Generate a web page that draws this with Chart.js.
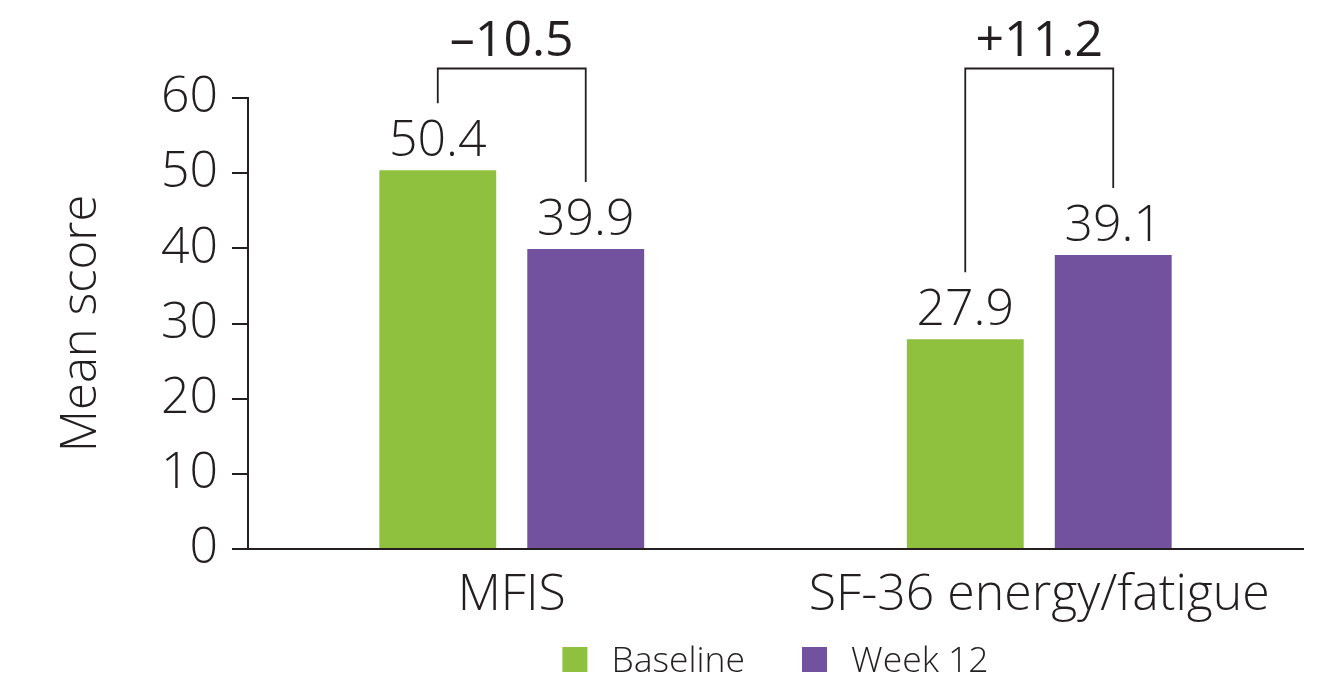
<!DOCTYPE html>
<html>
<head>
<meta charset="utf-8">
<title>Mean fatigue scores</title>
<script src="https://cdn.jsdelivr.net/npm/chart.js@4.4.1/dist/chart.umd.min.js"></script>
<style>
  html, body { margin: 0; padding: 0; background: #ffffff; }
  #wrap { width: 1334px; height: 681px; }
</style>
</head>
<body>
<div id="wrap"><canvas id="chart" width="1334" height="681"></canvas></div>
<script>
// Chart data
const categories = ['MFIS', 'SF-36 energy/fatigue'];
const seriesNames = ['Baseline', 'Week 12'];
const baselineScores = [50.4, 27.9];
const week12Scores = [39.9, 39.1];
const changeLabels = ['\u201310.5', '+11.2'];
const yTickValues = [0, 10, 20, 30, 40, 50, 60];

// Styling
const INK = '#231f20';
const GREEN = '#8fc13f';
const PURPLE = '#72529f';
const FONT = "'Open Sans', 'Noto Sans', sans-serif";

// Value labels above each bar
const valueLabels = {
  id: 'valueLabels',
  afterDatasetsDraw(chart) {
    const ctx = chart.ctx;
    ctx.save();
    ctx.font = `300 50px ${FONT}`;
    ctx.fillStyle = INK;
    ctx.textAlign = 'center';
    ctx.textBaseline = 'alphabetic';
    chart.data.datasets.forEach((ds, di) => {
      chart.getDatasetMeta(di).data.forEach((bar, i) => {
        ctx.fillText(ds.data[i].toFixed(1), bar.x, bar.y - 14);
      });
    });
    ctx.restore();
  }
};

// Brackets joining the two bars of each group, with the change on top
const changeBrackets = {
  id: 'changeBrackets',
  afterDatasetsDraw(chart) {
    const ctx = chart.ctx;
    const y = chart.scales.y;
    const topY = Math.round(y.getPixelForValue(64)) + 0.5;
    const a = chart.getDatasetMeta(0).data;
    const b = chart.getDatasetMeta(1).data;
    ctx.save();
    ctx.strokeStyle = INK;
    ctx.lineWidth = 1.8;
    categories.forEach((c, i) => {
      const x1 = a[i].x, x2 = b[i].x;
      ctx.beginPath();
      ctx.moveTo(x1, a[i].y - 67);
      ctx.lineTo(x1, topY);
      ctx.lineTo(x2, topY);
      ctx.lineTo(x2, b[i].y - 67);
      ctx.stroke();
      ctx.font = `400 50px ${FONT}`;
      ctx.fillStyle = INK;
      ctx.textAlign = 'center';
      ctx.textBaseline = 'alphabetic';
      ctx.fillText(changeLabels[i], (x1 + x2) / 2, topY - 13);
    });
    ctx.restore();
  }
};

// Legend centred under the plot area
const bottomLegend = {
  id: 'bottomLegend',
  afterDraw(chart) {
    const ctx = chart.ctx;
    const area = chart.chartArea;
    const box = 25, textGap = 24, itemGap = 57;
    ctx.save();
    ctx.font = `300 35.5px ${FONT}`;
    const widths = chart.data.datasets.map(ds => ctx.measureText(ds.label).width);
    let total = 0;
    widths.forEach((w, i) => { total += box + textGap + w + (i ? itemGap : 0); });
    let x = (area.left + area.right) / 2 - total / 2;
    const top = chart.height - 34;
    ctx.textBaseline = 'alphabetic';
    ctx.textAlign = 'left';
    chart.data.datasets.forEach((ds, i) => {
      ctx.fillStyle = ds.backgroundColor;
      ctx.fillRect(x, top, box, box);
      ctx.fillStyle = INK;
      ctx.fillText(ds.label, x + box + textGap, top + box);
      x += box + textGap + widths[i] + itemGap;
    });
    ctx.restore();
  }
};

new Chart(document.getElementById('chart'), {
  type: 'bar',
  data: {
    labels: categories,
    datasets: [
      { label: seriesNames[0], data: baselineScores, backgroundColor: GREEN },
      { label: seriesNames[1], data: week12Scores, backgroundColor: PURPLE }
    ]
  },
  options: {
    responsive: false,
    animation: false,
    devicePixelRatio: 1,
    layout: { padding: { top: 98, right: 31, bottom: 38, left: 0 } },
    datasets: { bar: { categoryPercentage: 0.561, barPercentage: 0.79 } },
    plugins: { legend: { display: false }, tooltip: { enabled: false } },
    scales: {
      x: {
        grid: { display: true, drawOnChartArea: false, drawTicks: false },
        border: { display: true, color: INK, width: 2 },
        ticks: { color: INK, font: { family: FONT, size: 50, weight: 300 }, padding: 17 }
      },
      y: {
        min: 0,
        max: 60,
        afterBuildTicks(scale) { scale.ticks = yTickValues.map(v => ({ value: v })); },
        afterFit(scale) { scale.width = 248; },
        grid: { drawOnChartArea: false, drawTicks: true, tickLength: 16, color: INK, lineWidth: 2 },
        border: { display: true, color: INK, width: 2 },
        ticks: { color: INK, font: { family: FONT, size: 50, weight: 300 }, padding: 14 },
        title: {
          display: true,
          text: 'Mean score',
          color: INK,
          font: { family: FONT, size: 49, weight: 300 },
          padding: { top: 53, bottom: 0 }
        }
      }
    }
  },
  plugins: [valueLabels, changeBrackets, bottomLegend]
});
</script>
</body>
</html>
